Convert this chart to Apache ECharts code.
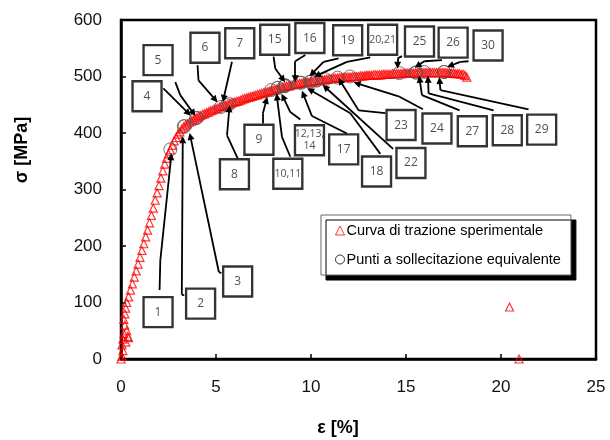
<!DOCTYPE html>
<html>
<head>
<meta charset="UTF-8">
<title>Curva di trazione</title>
<script src="https://cdn.jsdelivr.net/npm/echarts@6/dist/echarts.min.js"></script>
<style>
  html, body{ margin:0; padding:0; background:#fff; }
  #chart{ width:610px; height:440px; }
</style>
</head>
<body>
<div id="chart"></div>
<script>
// curva sperimentale (deformazione %, tensione MPa)
var strain = [0,0.05,0.1,0.05,0.1,0.15,0.25,0.35,0.4,0.3,0.2,0.15,0.2,0.25,0.3,
  0.4,0.5,0.6,0.7,0.8,0.9,1.0,1.1,1.2,1.3,1.4,1.5,1.6,1.7,1.8,1.9,2.0,2.1,2.2,2.3,2.4,2.5,
  2.6,2.7,2.8,2.9,3.0,3.1,3.2,3.3,3.4,3.5,3.6,3.7,3.8,3.9,4.0,4.1,4.2,4.3,4.4,4.5,4.6,4.7,4.8,4.9,
  5.0,5.1,5.2,5.3,5.4,5.5,5.6,5.7,5.8,5.9,6.0,6.1,6.2,6.3,6.4,6.5,6.6,6.7,6.8,6.9,
  7.0,7.1,7.2,7.3,7.4,7.5,7.6,7.7,7.8,7.9,8.0,8.1,8.2,8.3,8.4,8.5,8.6,8.7,8.8,8.9,
  9.0,9.1,9.2,9.3,9.4,9.5,9.6,9.7,9.8,9.9,10.0,10.1,10.2,10.3,10.4,10.5,10.6,10.7,10.8,10.9,
  11.0,11.1,11.2,11.3,11.4,11.5,11.6,11.7,11.8,11.9,12.0,12.1,12.2,12.3,12.4,12.5,12.6,12.7,12.8,12.9,
  13.0,13.1,13.2,13.3,13.4,13.5,13.6,13.7,13.8,13.9,14.0,14.1,14.2,14.3,14.4,14.5,14.6,14.7,14.8,14.9,
  15.0,15.1,15.2,15.3,15.4,15.5,15.6,15.7,15.8,15.9,16.0,16.1,16.2,16.3,16.4,16.5,16.6,16.7,16.8,16.9,
  17.0,17.1,17.2,17.3,17.4,17.5,17.6,17.7,17.8,17.9,18.0,18.1,18.2,
  20.45,20.95];
var stress = [0,5,15,25,35,45,30,40,38,50,60,70,80,90,100,
  110,122,133,145,156,168,180,192,204,216,228,241,254,267,281,294,307,320,333,345,355,363,
  370,378,386,392,398,402,407,411,414,416,419,421,423,425,427,429,431,433,434,436,437,439,440,442,
  443,444,446,447,448,449,450,451,453,454,455,456,457,458,460,461,462,463,464,465,
  466,467,468,469,470,471,472,473,474,475,476,477,478,479,480,481,482,483,483,484,
  485,486,486,487,488,488,489,489,490,490,491,491,492,492,493,493,494,494,495,495,
  496,496,497,497,497,498,498,498,499,499,499,499,500,500,500,500,501,501,501,502,
  502,502,502,503,503,503,503,503,504,504,504,504,504,505,505,505,505,505,505,506,
  506,506,506,506,506,506,507,507,507,507,507,507,507,507,507,507,507,507,507,507,
  507,507,506,506,506,506,505,505,505,504,504,502,499,
  92,0];

// punti a sollecitazione equivalente
var eqStrain = [2.6,3.3,3.35,3.95,4.0,5.25,5.55,5.7,7.9,8.25,8.25,8.65,8.65,8.65,8.6,
  9.4,9.5,9.95,10.0,10.3,10.3,10.75,11.4,12.05,14.65,15.5,15.55,15.95,17.0,17.0];
var eqStress = [371,412,412,426,427,446,449,451,476,480,480,484,484,484,483,
  489,489,491,491,493,493,495,498,500,506,507,507,508,508,508];

// riquadri numerati
var boxLabels = ['1','2','3','4','5','6','7','8','9','10,11','12,13,\n14','15','16','17','18',
  '19','20,21','22','23','24','25','26','27','28','29','30'];
var boxX = [1.95,4.19,6.14,1.37,1.95,4.42,6.25,5.97,7.26,8.78,9.92,8.09,9.94,11.72,13.45,
  11.93,13.77,15.26,14.74,16.63,15.71,17.48,18.49,20.33,22.14,19.32];
var boxY = [83,98,137,465,529,551,559,327,388,328,387,565,568,371,332,
  564,565,347,414,408,562,560,403,405,406,555];

// frecce: percorso dal riquadro al punto
var arrowPaths = [
  [[2.03,122],[2.07,175],[2.64,358]],
  [[3.33,114],[3.2,114],[3.25,388]],
  [[5.28,152],[5.15,154],[3.65,394]],
  [[2.23,479],[3.54,435]],
  [[2.86,490],[3.12,467],[3.81,435]],
  [[4.03,520],[4.08,493],[4.96,459]],
  [[5.84,526],[5.4,461]],
  [[6.14,355],[5.58,396],[5.7,443]],
  [[7.47,417],[7.47,435],[7.65,458]],
  [[8.91,358],[8.47,393],[8.21,464]],
  [[9.44,424],[8.91,437],[8.53,464]],
  [[8.03,535],[8.12,514],[8.53,495]],
  [[9.7,538],[9.17,527],[9.17,496]],
  [[11.89,399],[10.05,430],[9.59,469]],
  [[13.65,363],[12.07,435],[9.96,476]],
  [[11.45,532],[10.66,526],[10.05,505]],
  [[13.12,534],[11.89,526],[10.32,502]],
  [[14.32,372],[10.75,481]],
  [[13.91,435],[12.51,440],[11.54,492]],
  [[15.89,442],[14.61,465],[12.42,488]],
  [[14.79,536],[14.56,532],[14.56,520]],
  [[16.89,529],[15.96,527],[15.61,519]],
  [[17.82,440],[15.84,467],[15.72,495]],
  [[19.61,440],[16.19,470],[16.16,495]],
  [[21.45,442],[16.81,476],[16.77,493]],
  [[18.29,527],[17.86,526],[17.33,519]]
];

var curveData = [];
for (var i = 0; i < strain.length; i++) curveData.push([strain[i], stress[i]]);
var eqData = [];
for (var i = 0; i < eqStrain.length; i++) eqData.push([eqStrain[i], eqStress[i]]);
var boxData = [];
for (var i = 0; i < boxLabels.length; i++) {
  var item = {name: boxLabels[i], value: [boxX[i], boxY[i]]};
  if (boxLabels[i].length > 2) item.label = {fontSize: 10.5};
  boxData.push(item);
}
var shafts = [], heads = [];
for (var i = 0; i < arrowPaths.length; i++) {
  var p = arrowPaths[i];
  for (var j = 0; j < p.length - 1; j++) {
    if (j == p.length - 2) heads.push({coords: [p[j], p[j + 1]]});
    else shafts.push({coords: [p[j], p[j + 1]]});
  }
}

var font = 'Liberation Sans, Arial, sans-serif';
var chart = echarts.init(document.getElementById('chart'));
chart.setOption({
  animation: false,
  grid: {left: 121, right: 14, top: 20, bottom: 81, show: true, borderColor: '#000', borderWidth: 2.5},
  xAxis: {
    type: 'value', min: 0, max: 25, interval: 5,
    axisLine: {lineStyle: {color: '#000', width: 2.5}},
    axisTick: {inside: true, length: 5, lineStyle: {color: '#000', width: 1.5}},
    axisLabel: {fontSize: 17, color: '#111', fontFamily: font, margin: 20},
    splitLine: {show: false}
  },
  yAxis: {
    type: 'value', min: 0, max: 600, interval: 100,
    axisLine: {lineStyle: {color: '#000', width: 2.5}},
    axisTick: {inside: true, length: 5, lineStyle: {color: '#000', width: 1.5}},
    axisLabel: {fontSize: 17, color: '#111', fontFamily: font, margin: 19},
    splitLine: {show: false}
  },
  legend: {
    orient: 'vertical', left: 321, top: 215,
    padding: [8, 10, 8, 14], itemGap: 14, itemWidth: 9, itemHeight: 9,
    backgroundColor: '#fff', borderColor: '#666', borderWidth: 1,
    shadowColor: '#000', shadowBlur: 0, shadowOffsetX: 5, shadowOffsetY: 5,
    textStyle: {fontSize: 14.5, fontFamily: font, color: '#000', padding: [0, 0, 0, -3]},
    data: [
      {name: 'Curva di trazione sperimentale', icon: 'triangle',
        itemStyle: {color: 'rgba(0,0,0,0)', borderColor: '#ff0000', borderWidth: 1}},
      {name: 'Punti a sollecitazione equivalente', icon: 'circle',
        itemStyle: {color: 'rgba(0,0,0,0)', borderColor: '#000', borderWidth: 1}}
    ]
  },
  graphic: [
    {type: 'text', x: 22, y: 150, rotation: Math.PI / 2,
      style: {text: 'σ [MPa]', font: 'bold 18px ' + font, fill: '#000', align: 'center', verticalAlign: 'middle'}},
    {type: 'text', x: 338, y: 428,
      style: {text: 'ε [%]', font: 'bold 18px ' + font, fill: '#000', align: 'center', verticalAlign: 'middle'}}
  ],
  series: [
    {
      name: 'Curva di trazione sperimentale', type: 'scatter', data: curveData,
      symbol: 'triangle', symbolSize: 8, z: 2,
      itemStyle: {color: 'rgba(0,0,0,0)', borderColor: '#ff0000', borderWidth: 1.2}
    },
    {
      name: 'Punti a sollecitazione equivalente', type: 'scatter', data: eqData,
      symbol: 'circle', symbolSize: 13, z: 3,
      itemStyle: {color: 'rgba(0,0,0,0)', borderColor: '#555', borderWidth: 1}
    },
    {
      name: 'frecce', type: 'lines', coordinateSystem: 'cartesian2d', data: shafts,
      symbol: 'none', z: 4, silent: true,
      lineStyle: {color: '#000', width: 1.8, opacity: 1}
    },
    {
      name: 'punte', type: 'lines', coordinateSystem: 'cartesian2d', data: heads,
      symbol: ['none', 'triangle'], symbolSize: 7, z: 4, silent: true,
      lineStyle: {color: '#000', width: 1.8, opacity: 1}
    },
    {
      name: 'riquadri', type: 'scatter', data: boxData,
      symbol: 'rect', symbolSize: [29, 30], z: 5, silent: true,
      itemStyle: {color: '#fff', borderColor: '#000', borderWidth: 2.4},
      label: {show: true, position: 'inside', formatter: '{b}', fontSize: 12,
        fontFamily: 'Open Sans, sans-serif', color: '#222', lineHeight: 12}
    }
  ]
});
</script>
</body>
</html>
